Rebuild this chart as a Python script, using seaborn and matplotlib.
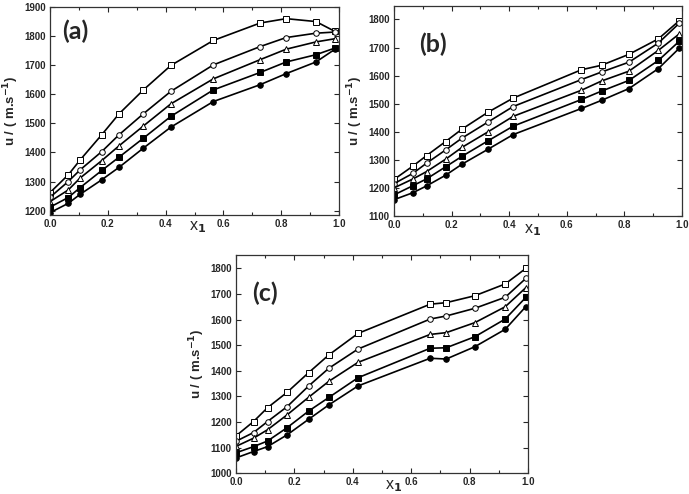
import matplotlib
matplotlib.use("Agg")
import matplotlib.pyplot as plt
import seaborn as sns
import pandas as pd
from matplotlib.ticker import MultipleLocator, FormatStrFormatter

# mole fraction x1 per panel
xa = [0.0, 0.063, 0.104, 0.179, 0.239, 0.323, 0.418, 0.565, 0.727, 0.817, 0.920, 0.986]
xb = [0.0, 0.066, 0.113, 0.179, 0.237, 0.327, 0.414, 0.651, 0.721, 0.816, 0.918, 0.991]
xc = [0.0, 0.060, 0.108, 0.175, 0.249, 0.318, 0.418, 0.665, 0.720, 0.818, 0.922, 0.993]

# speed of sound u (m/s), five temperatures per panel (top -> bottom)
a_sq = [1262, 1323, 1374, 1461, 1533, 1615, 1699, 1785, 1845, 1860, 1850, 1816]
a_ci = [1246, 1300, 1340, 1403, 1461, 1533, 1610, 1701, 1764, 1795, 1810, 1814]
a_tr = [1231, 1271, 1312, 1372, 1423, 1491, 1567, 1653, 1719, 1755, 1780, 1791]
a_fs = [1212, 1245, 1279, 1338, 1384, 1449, 1524, 1615, 1675, 1711, 1736, 1759]
a_fc = [1193, 1225, 1256, 1306, 1349, 1415, 1487, 1575, 1633, 1671, 1711, 1755]

b_sq = [1230, 1278, 1315, 1365, 1410, 1470, 1520, 1621, 1637, 1676, 1731, 1796]
b_ci = [1215, 1252, 1288, 1335, 1378, 1435, 1490, 1586, 1613, 1648, 1716, 1787]
b_tr = [1200, 1232, 1258, 1302, 1345, 1400, 1455, 1548, 1581, 1616, 1690, 1749]
b_fs = [1175, 1208, 1232, 1275, 1313, 1368, 1420, 1515, 1545, 1583, 1654, 1723]
b_fc = [1158, 1183, 1207, 1245, 1285, 1338, 1390, 1483, 1512, 1554, 1625, 1698]

c_sq = [1146, 1202, 1256, 1316, 1393, 1462, 1546, 1660, 1666, 1693, 1739, 1800]
c_ci = [1125, 1159, 1202, 1260, 1341, 1410, 1485, 1602, 1614, 1644, 1687, 1761]
c_tr = [1105, 1137, 1170, 1228, 1297, 1359, 1433, 1542, 1549, 1588, 1650, 1725]
c_fs = [1080, 1104, 1126, 1178, 1243, 1296, 1373, 1488, 1490, 1533, 1602, 1687]
c_fc = [1060, 1085, 1104, 1150, 1211, 1267, 1341, 1449, 1446, 1494, 1562, 1651]

sns.set_style("ticks")
plt.rcParams['font.family'] = ['Liberation Sans', 'DejaVu Sans']
plt.rcParams['font.weight'] = 'bold'

# marker, facecolor for each series
styles = [('s', 'white'), ('o', 'white'), ('^', 'white'), ('s', 'black'), ('o', 'black')]

panels = [
    dict(x=xa, ys=[a_sq, a_ci, a_tr, a_fs, a_fc], label='(a)', ylim=(1185, 1900),
         pos=[0.0726, 0.5648, 0.4195, 0.421], lab=(0.087, 0.885), xl=(0.51, -0.02)),
    dict(x=xb, ys=[b_sq, b_ci, b_tr, b_fs, b_fc], label='(b)', ylim=(1100, 1848),
         pos=[0.5718, 0.5628, 0.418, 0.425], lab=(0.135, 0.82), xl=(0.48, -0.03)),
    dict(x=xc, ys=[c_sq, c_ci, c_tr, c_fs, c_fc], label='(c)', ylim=(1000, 1852),
         pos=[0.3425, 0.0419, 0.4238, 0.4419], lab=(0.10, 0.826), xl=(0.54, -0.025)),
]

fig = plt.figure(figsize=(6.89, 4.94), dpi=100)

for p in panels:
    ax = fig.add_axes(p['pos'])
    for y, (m, fc) in zip(p['ys'], styles):
        df = pd.DataFrame({'x1': p['x'], 'u': y})
        sns.lineplot(data=df, x='x1', y='u', ax=ax, color='black', linewidth=1.2,
                     marker=m, markersize=4, markerfacecolor=fc,
                     markeredgecolor='black', markeredgewidth=0.7)
    ax.set_xlim(0, 1.0)
    ax.set_ylim(*p['ylim'])
    ax.xaxis.set_major_locator(MultipleLocator(0.2))
    ax.xaxis.set_minor_locator(MultipleLocator(0.1))
    ax.xaxis.set_major_formatter(FormatStrFormatter('%.1f'))
    ax.yaxis.set_major_locator(MultipleLocator(100))
    ax.tick_params(direction='in', top=True, right=True, which='both',
                   labelsize=7, length=3.5, width=0.8, pad=3)
    ax.tick_params(which='minor', length=2)
    for s in ax.spines.values():
        s.set_linewidth(0.9)
        s.set_color('#333333')
    ax.set_ylabel('u / ( m.s$^{-1}$)', fontsize=9.5, fontweight='bold', labelpad=2)
    ax.set_xlabel('x$_1$', fontsize=11.5, fontweight='normal')
    ax.xaxis.set_label_coords(p['xl'][0], p['xl'][1])
    ax.text(p['lab'][0], p['lab'][1], p['label'], transform=ax.transAxes,
            fontsize=18, fontweight='bold', family=['Lato', 'DejaVu Sans'],
            ha='center', va='center')

fig.savefig('out.png', dpi=100)
